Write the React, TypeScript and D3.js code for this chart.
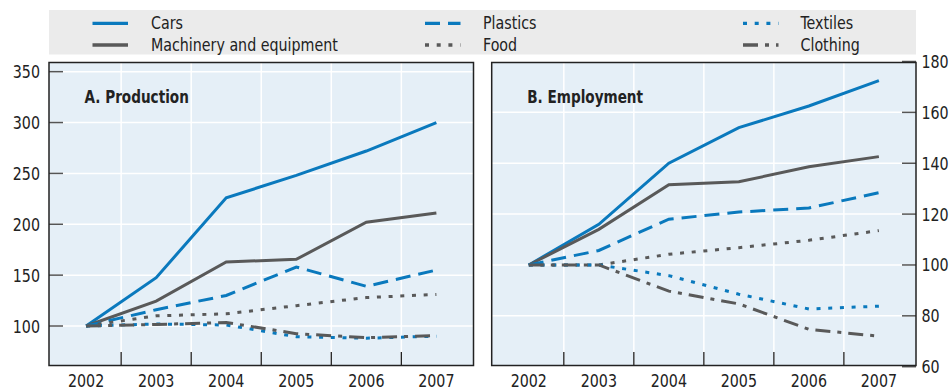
import React from "react";
import * as d3 from "d3";

const years = ["2002", "2003", "2004", "2005", "2006", "2007"];
const seriesNames = ["Cars", "Machinery and equipment", "Plastics", "Food", "Textiles", "Clothing"];

const productionCars = [100, 147.5, 226, 248, 272, 300];
const productionMachinery = [100, 124.5, 163, 165.5, 202, 211];
const productionPlastics = [100, 116, 130, 158, 139, 155];
const productionFood = [100, 110, 112, 120, 128, 131];
const productionTextiles = [100, 102, 101, 89.5, 88, 90];
const productionClothing = [100, 101.5, 103.5, 92.5, 88.5, 90.5];

const employmentCars = [100, 116, 140, 154, 162.5, 172.5];
const employmentMachinery = [100, 114, 131.5, 132.7, 138.6, 142.6];
const employmentPlastics = [100, 105.7, 118, 120.8, 122.4, 128.4];
const employmentFood = [100, 100, 104.2, 106.8, 109.7, 113.5];
const employmentTextiles = [100, 100, 95.8, 88.5, 82.7, 83.8];
const employmentClothing = [100, 100, 89.7, 84.7, 74.7, 72];

const productionTicks = [100, 150, 200, 250, 300, 350];
const employmentTicks = [60, 80, 100, 120, 140, 160, 180];

const BLUE = "#0a79bd";
const GRAY = "#595959";
const styles = [
  { color: BLUE, dash: "none" },
  { color: GRAY, dash: "none" },
  { color: BLUE, dash: "15 8" },
  { color: GRAY, dash: "4 7.7" },
  { color: BLUE, dash: "4 7.7" },
  { color: GRAY, dash: "15 7 4 7" },
];

const FONT = "'DejaVu Sans Condensed', 'DejaVu Sans', sans-serif";

type TxtProps = {
  x: number;
  y: number;
  anchor?: "start" | "middle" | "end";
  bold?: boolean;
  size?: number;
  sx?: number;
  children: React.ReactNode;
};

function Txt({ x, y, anchor = "start", bold = false, size = 18, sx = 0.88, children }: TxtProps) {
  return (
    <g transform={`translate(${x},${y}) scale(${sx},1)`}>
      <text x={0} y={0} textAnchor={anchor} fontFamily={FONT} fontWeight={bold ? "bold" : "normal"} fontSize={size} fill="#222">
        {children}
      </text>
    </g>
  );
}

type PanelProps = {
  x0: number;
  x1: number;
  title: string;
  data: number[][];
  domain: [number, number];
  ticks: number[];
  axisSide: "left" | "right";
};

const Y0 = 62.5;
const Y1 = 365.5;

function Panel({ x0, x1, title, data, domain, ticks, axisSide }: PanelProps) {
  const x = d3.scalePoint<string>().domain(years).range([x0, x1]).padding(0.53);
  const y = d3.scaleLinear().domain(domain).range([366.7, 61.5]);
  const step = x.step();
  const mids = years.slice(0, -1).map((yr) => (x(yr) as number) + step / 2);
  const line = d3
    .line<number>()
    .x((_, i) => x(years[i]) as number)
    .y((d) => y(d));
  const gridTicks = ticks.filter((t) => y(t) > Y0 + 2 && y(t) < Y1 - 2);
  return (
    <g>
      <rect x={x0} y={Y0} width={x1 - x0} height={Y1 - Y0} fill="#e5eff7" />
      {gridTicks.map((t) => (
        <line key={"h" + t} x1={x0} x2={x1} y1={y(t)} y2={y(t)} stroke="#fff" strokeWidth={1.5} />
      ))}
      {mids.map((m, i) => (
        <line key={"v" + i} x1={m} x2={m} y1={Y0} y2={Y1} stroke="#fff" strokeWidth={1.5} />
      ))}
      {mids.map((m, i) => (
        <line key={"t" + i} x1={m} x2={m} y1={Y1 - 13.5} y2={Y1} stroke="#222" strokeWidth={1.3} />
      ))}
      {ticks.map((t) =>
        axisSide === "left" ? (
          <line key={"yt" + t} x1={x0} x2={x0 + 14} y1={y(t)} y2={y(t)} stroke="#555" strokeWidth={1.5} />
        ) : (
          <line key={"yt" + t} x1={x1 - 14} x2={x1} y1={y(t)} y2={y(t)} stroke="#555" strokeWidth={1.5} />
        )
      )}
      {data.map((d, i) => (
        <path
          key={"s" + i}
          d={line(d) as string}
          fill="none"
          stroke={styles[i].color}
          strokeWidth={3}
          strokeDasharray={styles[i].dash}
        />
      ))}
      <rect x={x0} y={Y0} width={x1 - x0} height={Y1 - Y0} fill="none" stroke="#222" strokeWidth={1.5} />
      <Txt x={x0 + 35.5} y={103} bold sx={0.84}>
        {title}
      </Txt>
      {years.map((yr) => (
        <Txt key={"xl" + yr} x={x(yr) as number} y={387} anchor="middle">
          {yr}
        </Txt>
      ))}
      {ticks.map((t) => (
        <Txt
          key={"yl" + t}
          x={axisSide === "left" ? x0 - 9 : x1 + 5.5}
          y={y(t) + 6.5}
          anchor={axisSide === "left" ? "end" : "start"}
        >
          {t}
        </Txt>
      ))}
    </g>
  );
}

export default function App() {
  const production = [productionCars, productionMachinery, productionPlastics, productionFood, productionTextiles, productionClothing];
  const employment = [employmentCars, employmentMachinery, employmentPlastics, employmentFood, employmentTextiles, employmentClothing];
  const legendCols = [
    { lx: 92.5, tx: 151 },
    { lx: 425, tx: 483 },
    { lx: 743, tx: 800.5 },
  ];
  const legendRows = [23.3, 45];
  return (
    <svg width={949} height={391} style={{ position: "absolute", left: 0, top: 0, background: "#fff" }}>
      <rect x={49} y={10} width={867} height={44.5} fill="#ebebeb" />
      {seriesNames.map((name, i) => {
        const col = legendCols[Math.floor(i / 2)];
        const ry = legendRows[i % 2];
        return (
          <g key={name}>
            <line
              x1={col.lx}
              x2={col.lx + 35.5}
              y1={ry}
              y2={ry}
              stroke={styles[i].color}
              strokeWidth={3.3}
              strokeDasharray={styles[i].dash}
            />
            <Txt x={col.tx} y={ry + 5.5}>
              {name}
            </Txt>
          </g>
        );
      })}
      <Panel x0={49} x1={473.5} title="A. Production" data={production} domain={[60, 360]} ticks={productionTicks} axisSide="left" />
      <Panel x0={491.7} x1={916} title="B. Employment" data={employment} domain={[60, 180]} ticks={employmentTicks} axisSide="right" />
    </svg>
  );
}
